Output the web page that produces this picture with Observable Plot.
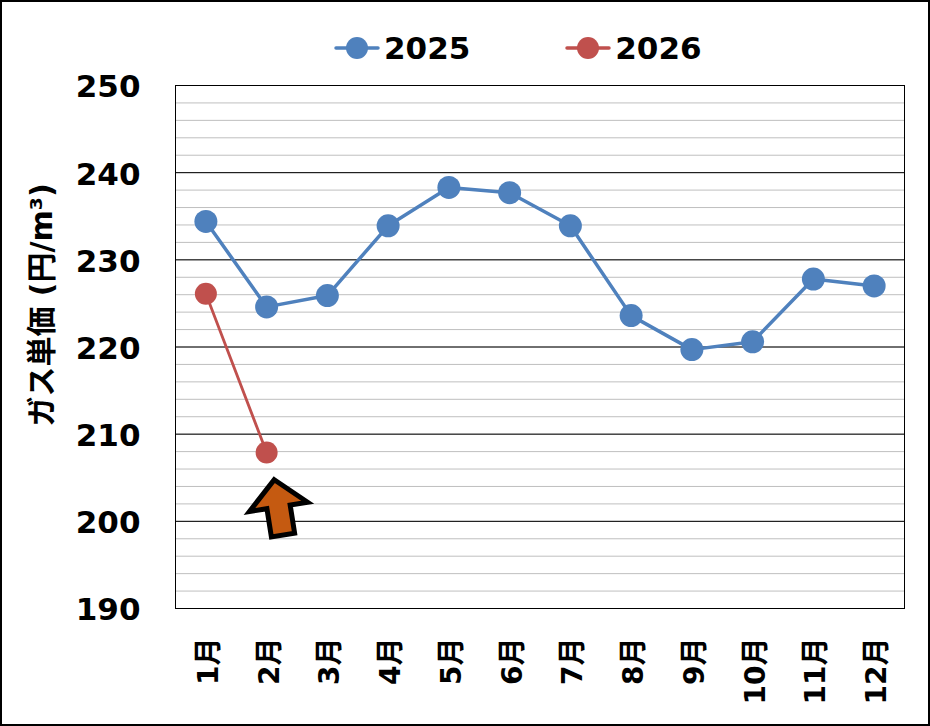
<!DOCTYPE html>
<html>
<head>
<meta charset="utf-8">
<script src="https://cdn.jsdelivr.net/npm/d3@7"></script>
<script src="https://cdn.jsdelivr.net/npm/@observablehq/plot@0.6"></script>
<style>
  body { margin: 0; background: #fff; }
  #chart {
    position: relative; width: 930px; height: 726px; box-sizing: border-box;
    border: 2px solid #000; background: #fff;
    font-family: "DejaVu Sans", "Noto Sans CJK JP", sans-serif; font-weight: bold;
  }
  #legend { height: 60px; display: flex; align-items: center; padding-left: 332px; padding-top: 32px; box-sizing: border-box; }
  .item { display: flex; align-items: center; font-size: 31px; line-height: 1; color: #000; margin-right: 95px; }
  .item svg { margin-right: 4px; }
  #plot svg { display: block; }
</style>
</head>
<body>
<div id="chart">
  <div id="legend"></div>
  <div id="plot"></div>
</div>
<script>
// ---- data ----
const months = ["1月", "2月", "3月", "4月", "5月", "6月", "7月", "8月", "9月", "10月", "11月", "12月"];
const values2025 = [234.4, 224.6, 225.9, 233.9, 238.3, 237.7, 233.9, 223.6, 219.7, 220.6, 227.8, 227.0];
const values2026 = [226.1, 207.9];
const seriesNames = ["2025", "2026"];
const seriesColors = ["#4f81bd", "#c0504d"];
const yTicks = [190, 200, 210, 220, 230, 240, 250];
const yMinorStep = 2;
const yLabel = "ガス単価 (円/m³)";
const arrowMonth = "2月";
const arrowValue = 201.6;

// ---- tables ----
const data2025 = values2025.map((v, i) => ({ month: months[i], value: v }));
const data2026 = values2026.map((v, i) => ({ month: months[i], value: v }));
const minorTicks = d3.range(yTicks[0], yTicks[yTicks.length - 1] + 0.001, yMinorStep);
const arrowData = [{ month: arrowMonth, value: arrowValue }];

// ---- legend ----
const legend = document.getElementById("legend");
seriesNames.forEach((name, i) => {
  const item = document.createElement("div");
  item.className = "item";
  item.innerHTML = `<svg width="46" height="26"><line x1="2" x2="44" y1="13" y2="13" stroke="${seriesColors[i]}" stroke-width="3.5" stroke-linecap="round"/><circle cx="23" cy="13" r="11" fill="${seriesColors[i]}"/></svg><span>${name}</span>`;
  legend.appendChild(item);
});

// ---- arrow symbol ----
const arrowSymbol = {
  draw(ctx, size) {
    const r = Math.sqrt(size / Math.PI);
    const a = -9 * Math.PI / 180;
    const pts = [[0, -1], [1.05, -0.02], [0.42, -0.02], [0.42, 1], [-0.42, 1], [-0.42, -0.02], [-1.05, -0.02]];
    pts.forEach(([x, y], i) => {
      const X = r * (x * Math.cos(a) - y * Math.sin(a));
      const Y = r * (x * Math.sin(a) + y * Math.cos(a));
      if (i) ctx.lineTo(X, Y); else ctx.moveTo(X, Y);
    });
    ctx.closePath();
  }
};

const font = `"DejaVu Sans", "Noto Sans CJK JP", sans-serif`;

const plot = Plot.plot({
  width: 926,
  height: 662,
  marginTop: 23,
  marginLeft: 173,
  marginRight: 24,
  marginBottom: 116,
  style: { fontFamily: font, fontWeight: "bold", color: "#000", background: "#fff" },
  x: { type: "point", domain: months, padding: 0.5, round: false },
  y: { domain: [yTicks[0], yTicks[yTicks.length - 1]] },
  marks: [
    Plot.ruleY(minorTicks, { stroke: "#bfbfbf", strokeWidth: 1 }),
    Plot.ruleY(yTicks, { stroke: "#000", strokeWidth: 1 }),
    Plot.frame({ stroke: "#000", strokeWidth: 1 }),
    Plot.axisY({ ticks: yTicks, tickSize: 0, tickPadding: 35, fontSize: 31, dy: 2, label: null, tickFormat: d => String(d) }),
    Plot.axisX({ tickRotate: -90, tickSize: 0, tickPadding: 29, fontSize: 28, dx: 3, label: null }),
    Plot.text([yLabel], { frameAnchor: "left", rotate: -90, dx: -133, dy: -42, fontSize: 30, textAnchor: "middle", fill: "#000" }),
    Plot.line(data2025, { x: "month", y: "value", stroke: seriesColors[0], strokeWidth: 3.5 }),
    Plot.dot(data2025, { x: "month", y: "value", r: 11.5, fill: seriesColors[0] }),
    Plot.line(data2026, { x: "month", y: "value", stroke: seriesColors[1], strokeWidth: 2.8 }),
    Plot.dot(data2026, { x: "month", y: "value", r: 11, fill: seriesColors[1] }),
    Plot.dot(arrowData, { x: "month", y: "value", symbol: arrowSymbol, r: 28, dx: 12, fill: "#c55a11", stroke: "#000", strokeWidth: 5, strokeLinejoin: "miter" })
  ]
});
document.getElementById("plot").appendChild(plot);
</script>
</body>
</html>
